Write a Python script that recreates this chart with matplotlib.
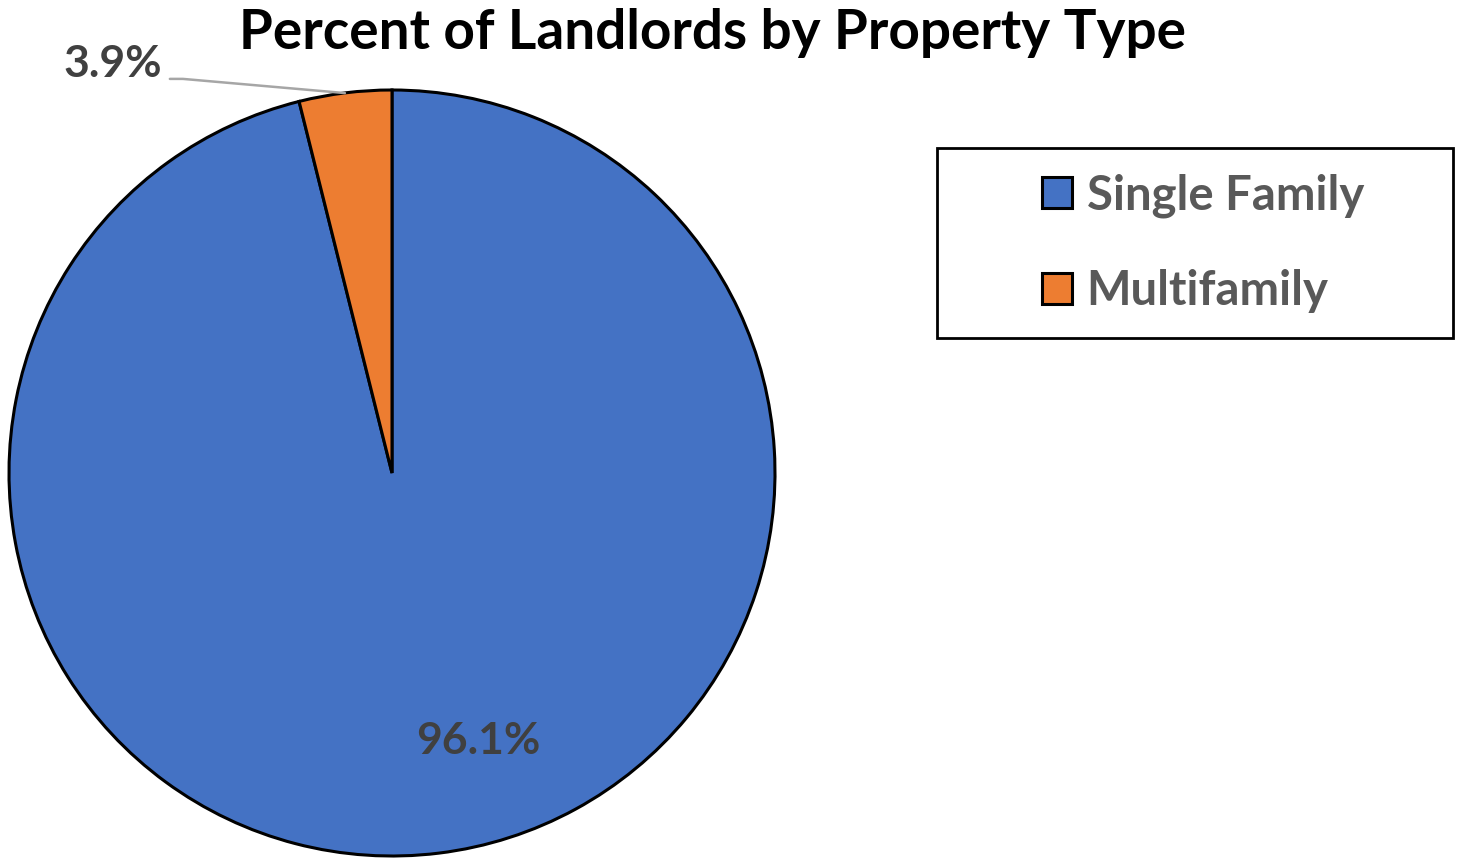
import matplotlib
matplotlib.use("Agg")
import matplotlib.pyplot as plt
from matplotlib.patches import Rectangle

# data
labels = ["Single Family", "Multifamily"]
shares = [96.1, 3.9]
colors = ["#4472C4", "#ED7D31"]

plt.rcParams['font.family'] = ['Lato', 'DejaVu Sans']

fig = plt.figure(figsize=(14.6, 8.58), dpi=100)
ax = fig.add_axes([9 / 1460, 2 / 858, 766 / 1460, 766 / 858])

wedges, _ = ax.pie(shares, colors=colors, startangle=90, counterclock=False,
                   radius=1, wedgeprops=dict(edgecolor="black", linewidth=2.2))
ax.set_xlim(-1, 1)
ax.set_ylim(-1, 1)
ax.set_aspect("equal")
ax.axis("off")

# percent labels
ax.text(0.225, -0.70, f"{shares[0]}%", ha="center", va="center",
        fontsize=32, fontweight="bold", color="#404040")
ax.text(-0.60, 1.068, f"{shares[1]}%", ha="right", va="center",
        fontsize=32, fontweight="bold", color="#404040")
ax.annotate("", xy=(-0.123, 0.992), xytext=(-0.58, 1.029), annotation_clip=False,
            arrowprops=dict(arrowstyle="-", color="#A6A6A6", lw=1.8,
                            connectionstyle="angle,angleA=0,angleB=-5,rad=0",
                            shrinkA=0, shrinkB=0))

fig.text(0.4877, 0.961, "Percent of Landlords by Property Type", ha="center", va="center",
         fontsize=39.5, fontweight="bold", color="black")

# legend box drawn separately, entries placed inside
fig.add_artist(Rectangle((937 / 1460, 1 - 338 / 858), 516 / 1460, 190 / 858,
                         transform=fig.transFigure, fill=False, edgecolor="black",
                         linewidth=2))
leg = fig.legend(wedges, labels, loc="center", bbox_to_anchor=(1203 / 1460, 1 - 243 / 858),
                 fontsize=34, frameon=False, handlelength=0.64,
                 handleheight=0.64, handletextpad=0.3, labelspacing=1.08,
                 borderpad=0, borderaxespad=0)
for t in leg.get_texts():
    t.set_color("#595959")
    t.set_fontweight("bold")

fig.savefig("out.png", dpi=100)
